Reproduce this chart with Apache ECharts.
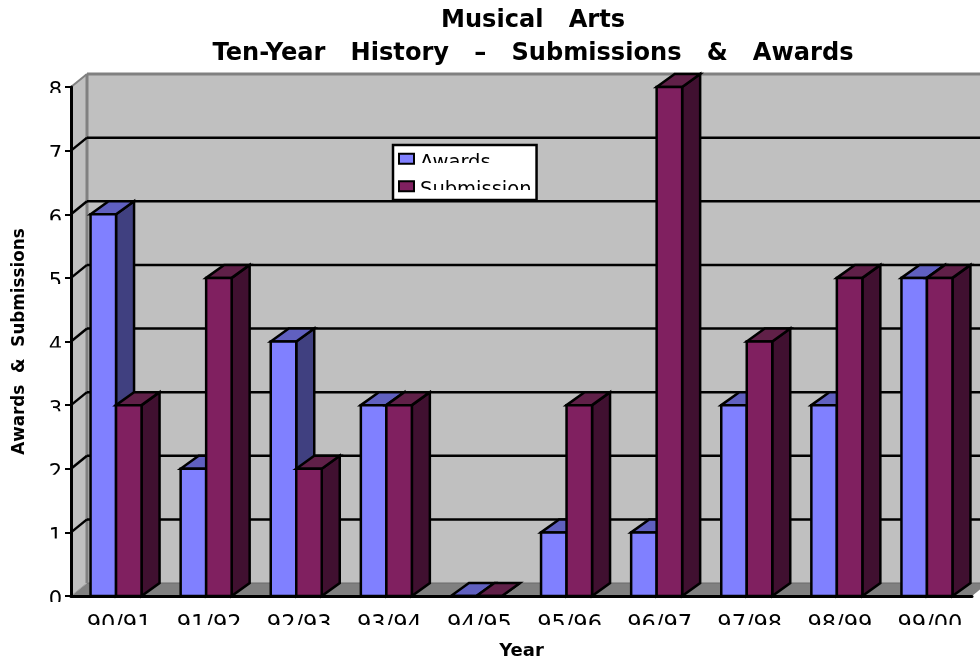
<!DOCTYPE html>
<html><head><meta charset="utf-8">
<style>html,body{margin:0;padding:0;background:#fff}#c{width:980px;height:660px}</style>
<script src="https://cdn.jsdelivr.net/npm/echarts@6/dist/echarts.min.js"></script>
</head><body><div id="c"></div>
<script>
const titleText = 'Musical   Arts\nTen-Year   History   –   Submissions   &   Awards';
const yTitle = 'Awards  &  Submissions';
const xTitle = 'Year';
const categories = ['90/91','91/92','92/93','93/94','94/95','95/96','96/97','97/98','98/99','99/00'];
const awards      = [6,2,4,3,0,1,1,3,3,5];
const submissions = [3,5,2,3,0,3,8,4,5,5];
const gridValues  = [1,2,3,4,5,6,7];

const DX = 16, DY = 13, BDX = 18, BDY = 13;
const FONT = '"DejaVu Sans"';

function poly(points, fill, lw, stroke){
  return {type:'polygon', shape:{points}, style:{fill, stroke: stroke||'#000', lineWidth: lw===undefined?2.5:lw, lineJoin:'miter'}};
}
function line(a,b,stroke,lw){
  return {type:'line', shape:{x1:a[0],y1:a[1],x2:b[0],y2:b[1]}, style:{stroke, lineWidth:lw}};
}
function wallsItem(params, api){
  const g = params.coordSys, x0=g.x, x1=g.x+g.width, y0=g.y, y1=g.y+g.height;
  const ch = [];
  ch.push(poly([[x0,y0],[x0+DX,y0-DY],[x1+DX,y0-DY],[x1+DX,y1-DY],[x0+DX,y1-DY],[x0,y1]],'#C0C0C0',0,'none'));
  ch.push(poly([[x0,y1],[x0+DX,y1-DY],[x1+DX,y1-DY],[x1,y1]],'#808080',0,'none'));
  ch.push(line([x0+DX,y1-DY],[x1+DX,y1-DY],'#6a6a6a',1));
  ch.push(line([x0+DX,y0-DY],[x1+DX,y0-DY],'#808080',3));
  ch.push(line([x0,y0],[x0+DX,y0-DY],'#808080',2));
  ch.push(line([x0+DX,y0-DY],[x0+DX,y1-DY],'#808080',3));
  ch.push(line([x0,y1],[x0+DX,y1-DY],'#a0a0a0',1));
  gridValues.forEach(v=>{
    const y = api.coord([0,v])[1];
    ch.push(line([x0,y],[x0+DX,y-DY],'#000',2.5));
    ch.push(line([x0+DX,y-DY],[x1+DX,y-DY],'#000',2.5));
  });
  return {type:'group', children:ch};
}
function barItem(side, front, top, dark){
  return function(params, api){
    const p = api.coord([api.value(0), api.value(1)]);
    const b = api.coord([api.value(0), 0]);
    const band = api.size([1,0])[0];
    const w = band*0.283;
    const l = side===0 ? p[0]-w : p[0];
    const r = l+w;
    const t = p[1], u = b[1];
    return {type:'group', children:[
      poly([[r,t],[r+BDX,t-BDY],[r+BDX,u-BDY],[r,u]], dark),
      poly([[l,t],[l+BDX,t-BDY],[r+BDX,t-BDY],[r,t]], top),
      poly([[l,t],[r,t],[r,u],[l,u]], front)
    ]};
  };
}
const masks = [];
for(let v=0;v<=8;v++){
  const y = 596 - v*509/8;
  masks.push({type:'rect', z:20, shape:{x:30,y:y+6,width:35,height:12}, style:{fill:'#fff'}});
}
masks.push({type:'rect', z:20, shape:{x:72,y:625,width:908,height:12}, style:{fill:'#fff'}});
masks.push({type:'rect', z:20, shape:{x:416,y:163,width:117,height:14.5}, style:{fill:'#fff'}});
masks.push({type:'rect', z:20, shape:{x:416,y:190,width:117,height:7}, style:{fill:'#fff'}});

const chart = echarts.init(document.getElementById('c'), null, {renderer:'canvas'});
chart.setOption({
  animation:false,
  backgroundColor:'#fff',
  title:{text:titleText, left:528, top:-1, textAlign:'center',
    textStyle:{fontFamily:FONT, fontSize:24.1, fontWeight:'bold', color:'#000', lineHeight:33}},
  legend:{left:393, top:145, orient:'vertical', icon:'rect', data:['Awards','Submission'],
    backgroundColor:'#fff', borderColor:'#000', borderWidth:2.5, padding:[0,5,0,5], itemGap:0,
    itemWidth:15, itemHeight:10, itemStyle:{borderColor:'#000', borderWidth:2},
    formatter:'{t|{name}}',
    textStyle:{rich:{t:{fontFamily:FONT, fontSize:19.5, color:'#000', lineHeight:26.5, padding:[7.5,0,0,1]}}}},
  grid:{left:71, top:87, width:901, height:509, outerBoundsMode:'none'},
  xAxis:{type:'category', data:categories, z:5, name:xTitle, nameLocation:'middle', nameGap:42,
    nameTextStyle:{fontFamily:FONT, fontSize:18, color:'#000', fontWeight:'bold'},
    axisLine:{lineStyle:{color:'#000', width:3}}, axisTick:{length:8, lineStyle:{color:'#000', width:2}},
    axisLabel:{fontFamily:FONT, fontSize:22.5, color:'#000', margin:18, interval:0, padding:[0,0,0,6]}, splitLine:{show:false}},
  yAxis:{type:'value', min:0, max:8, interval:1, z:5, name:yTitle, nameLocation:'middle', nameGap:43, nameRotate:90,
    nameTextStyle:{fontFamily:FONT, fontSize:16.8, color:'#000', fontWeight:'bold'},
    axisLine:{show:true, lineStyle:{color:'#000', width:3}}, axisTick:{show:true, length:6, lineStyle:{color:'#000', width:2}},
    axisLabel:{fontFamily:FONT, fontSize:21, color:'#000', margin:9, verticalAlign:'top', lineHeight:10}, splitLine:{show:false}},
  graphic:{elements:masks},
  series:[
    {type:'custom', name:'walls', z:1, clip:false, silent:true, data:[[0,0]], renderItem:wallsItem, encode:{x:0,y:1}},
    {type:'custom', name:'Awards', z:2, clip:false, itemStyle:{color:'#8080FF'},
      data:awards.map((v,i)=>[i,v]), encode:{x:0,y:1}, renderItem:barItem(0,'#8080FF','#6060C0','#404080')},
    {type:'custom', name:'Submission', z:3, clip:false, itemStyle:{color:'#802060'},
      data:submissions.map((v,i)=>[i,v]), encode:{x:0,y:1}, renderItem:barItem(1,'#802060','#602048','#401030')}
  ]
});
</script></body></html>
